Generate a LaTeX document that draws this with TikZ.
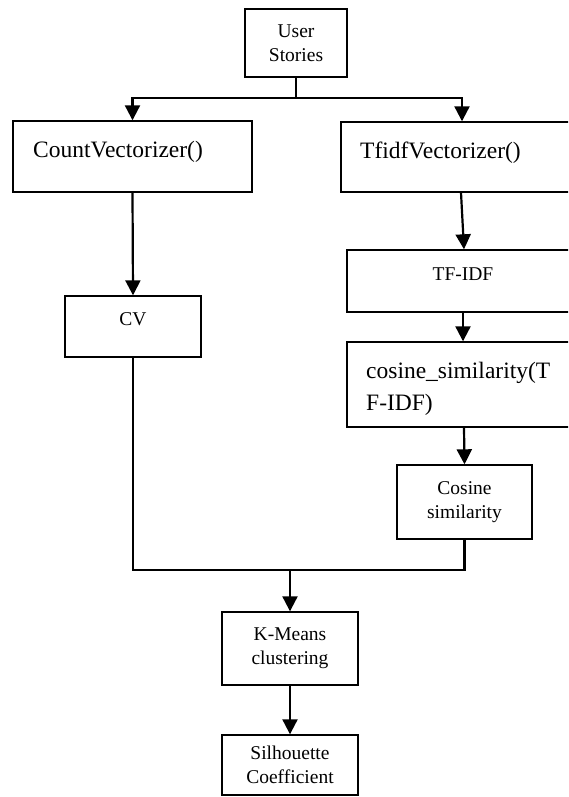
\documentclass[tikz,border=0pt]{standalone}
\usepackage{fontspec}
\setmainfont{Liberation Serif}
\usetikzlibrary{arrows.meta}
\begin{document}
\begin{tikzpicture}[x=1pt,y=-1pt,
  box/.style={draw, line width=1.4pt, inner sep=0pt, align=center,
    font=\fontsize{19.5}{24}\selectfont},
  bigtext/.style={font=\fontsize{23.5}{32}\selectfont, inner sep=0pt, align=left},
  smalltext/.style={font=\fontsize{19.5}{24}\selectfont, inner sep=0pt, align=center},
  conn/.style={line width=2.2pt, line cap=rect},
  arr/.style={line width=2.2pt, -{Triangle[length=15pt 0,width=15pt 0]}}]
\useasboundingbox (0,0) rectangle (568,797);
\clip (0,0) rectangle (568,797);
% boxes
\node[box, minimum width=102pt, minimum height=68pt] (user) at (296,43) {User\\Stories};
\node[box, minimum width=239pt, minimum height=71pt] (count) at (132.5,156.5) {};
\node[bigtext, anchor=west] at (33,152) {CountVectorizer()};
\node[box, minimum width=234pt, minimum height=70pt] (tfidf) at (458,157) {};
\node[bigtext, anchor=west] at (360,153) {TfidfVectorizer()};
\node[box, minimum width=228pt, minimum height=62pt] (tfm) at (461,281) {};
\node[smalltext] at (463,274) {TF-IDF};
\node[box, minimum width=228pt, minimum height=85pt] (cos) at (461,384.5) {};
\node[bigtext, anchor=west] at (366,389) {cosine\_similarity(T\\F-IDF)};
\node[box, minimum width=136pt, minimum height=61pt] (cv) at (133,326.5) {};
\node[smalltext] at (133,319) {CV};
\node[box, minimum width=135pt, minimum height=74pt] (cossim) at (464.5,502) {Cosine\\similarity};
\node[box, minimum width=136pt, minimum height=73pt] (kmeans) at (290,648.5) {K-Means\\clustering};
\node[box, minimum width=136pt, minimum height=60pt] (sil) at (290,765) {Silhouette\\Coefficient};
% connectors
\coordinate (split) at (296,98);
\coordinate (merge) at (290,570);
\draw[conn] (user.south) -- (split);
\draw[arr] (split) -| (count.north);
\draw[arr] (split) -| ([xshift=4pt]tfidf.north);
\draw[arr] (count.south) -- (cv.north);
\draw[arr] ([xshift=3pt]tfidf.south) -- ([xshift=3pt]tfm.north);
\draw[arr] ([xshift=2pt]tfm.south) -- ([xshift=2pt]cos.north);
\draw[arr] ([xshift=3pt]cos.south) -- (cossim.north);
\draw[conn] (cv.south) |- (merge);
\draw[conn] (cossim.south) |- (merge);
\draw[arr] (merge) -- (kmeans.north);
\draw[arr] (kmeans.south) -- (sil.north);
\end{tikzpicture}
\end{document}
